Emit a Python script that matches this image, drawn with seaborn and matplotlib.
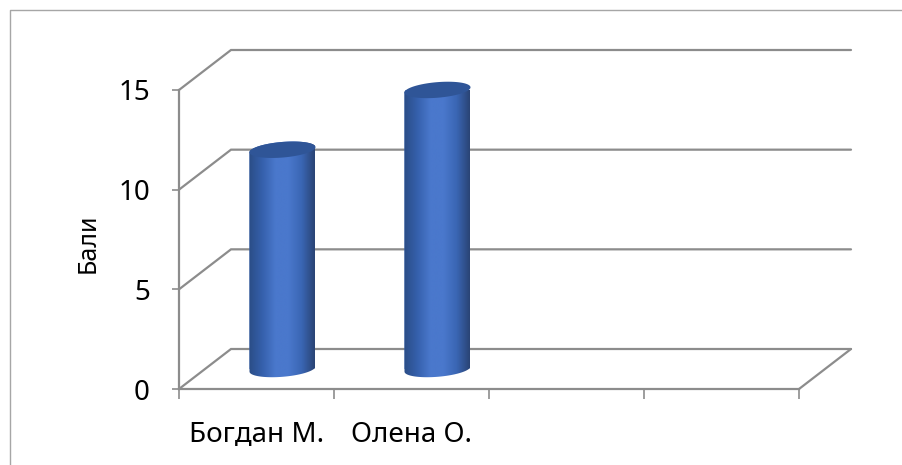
import numpy as np
import pandas as pd
import matplotlib
matplotlib.use("Agg")
import matplotlib.pyplot as plt
import matplotlib.transforms as mtransforms
from matplotlib.colors import LinearSegmentedColormap
from matplotlib.lines import Line2D
from matplotlib.patches import PathPatch
from matplotlib.path import Path
import seaborn as sns

categories = ["Богдан М.", "Олена О."]
scores = [11, 14]
y_ticks = [0, 5, 10, 15]
y_label = "Бали"

sns.set_theme(style="white")
plt.rcParams["font.family"] = ["Noto Sans", "DejaVu Sans"]

W, H, DPI = 903, 465, 100
GRAY = "#8c8c8c"
fig = plt.figure(figsize=(W / DPI, H / DPI), dpi=DPI, facecolor="white")
ax = fig.add_axes([179 / W, (H - 389) / H, 620 / W, 299 / H])

df = pd.DataFrame({"name": categories, "score": scores})
sns.barplot(data=df, x="name", y="score", ax=ax, width=66 / 155, color="#4472c4",
            saturation=1, legend=False)
ax.set_xlim(-0.5, 3.5)
ax.set_ylim(0, 15)

px_x = 155.0                # pixels per category
px_y = 299.0 / 15           # pixels per value unit
dx, dy = 52 / px_x, 40 / px_y

# 3-D box: floor/walls drawn as gridlines
for v in y_ticks:
    ax.plot([-0.5, -0.5 + dx, 3.5 + dx], [v, v + dy, v + dy], color=GRAY, lw=1.6,
            clip_on=False, zorder=1, solid_joinstyle="miter")
ax.plot([3.5, 3.5 + dx], [0, dy], color=GRAY, lw=1.6, clip_on=False, zorder=1)

# Cylinders: bars sit at mid depth
offset = mtransforms.ScaledTranslation(26 / DPI, 20 / DPI, fig.dpi_scale_trans)
tr = ax.transData + offset
cmap = LinearSegmentedColormap.from_list(
    "cyl", ["#2b4d86", "#3560ac", "#4a78cc", "#4a78cc", "#3a66b4", "#2a4475"])
grad = np.linspace(0, 1, 200).reshape(1, -1)
tilt, minor = 2.6 / px_y, 7.8 / px_y


def rim(cx, cy, a, t):
    return np.column_stack([cx + a * np.cos(t), cy + tilt * np.cos(t) + minor * np.sin(t)])


for bar in list(ax.patches):
    x0, w, h = bar.get_x(), bar.get_width(), bar.get_height()
    cx, a = x0 + w / 2, w / 2
    low = rim(cx, 0, a, np.linspace(np.pi, 2 * np.pi, 60))
    up = rim(cx, h, a, np.linspace(0, np.pi, 60))
    body = np.vstack([low, up, low[:1]])
    path = Path(body)
    bar.set_transform(tr)
    bar.set_linewidth(0)
    bar.set_zorder(2)
    bar.set_clip_path(path, tr)
    img = ax.imshow(grad, cmap=cmap, aspect="auto", extent=(x0, x0 + w, -1, h + 1),
                    zorder=3, transform=tr, interpolation="bilinear")
    img.set_clip_path(path, tr)
    top = rim(cx, h, a, np.linspace(0, 2 * np.pi, 120))
    ax.add_patch(PathPatch(Path(top), facecolor="#2f5597", edgecolor="none",
                           transform=tr, zorder=4, clip_on=False))

ax.set_xlim(-0.5, 3.5)
ax.set_ylim(0, 15)
ax.set_yticks(y_ticks)
ax.set_xticks([-0.5, 0.5, 1.5, 2.5, 3.5])
ax.set_xticklabels([])
ax.set_xticks([0, 1], labels=categories, minor=True)
ax.tick_params(axis="x", which="major", length=7.2, width=1.2, color=GRAY, bottom=True)
ax.tick_params(axis="x", which="minor", length=0, pad=23, labelsize=20, labelcolor="black")
ax.tick_params(axis="y", length=5, width=1.2, color=GRAY, left=True, pad=16,
               labelsize=20, labelcolor="black")
ax.set_xlabel("")
ax.set_ylabel(y_label, fontsize=18, color="black", va="center")
ax.yaxis.set_label_coords((88 - 179) / 620, (389 - 243) / 299)
sns.despine(ax=ax)
for s in ("left", "bottom"):
    ax.spines[s].set_color(GRAY)
    ax.spines[s].set_linewidth(1.6)
ax.patch.set_alpha(0)

# Chart frame (top and left edges visible)
fig.add_artist(Line2D([10.5 / W, 10.5 / W, 1], [0, (H - 10.5) / H, (H - 10.5) / H],
                      color="#a6a6a6", lw=1.0, transform=fig.transFigure))

fig.savefig("out.png", dpi=DPI)
